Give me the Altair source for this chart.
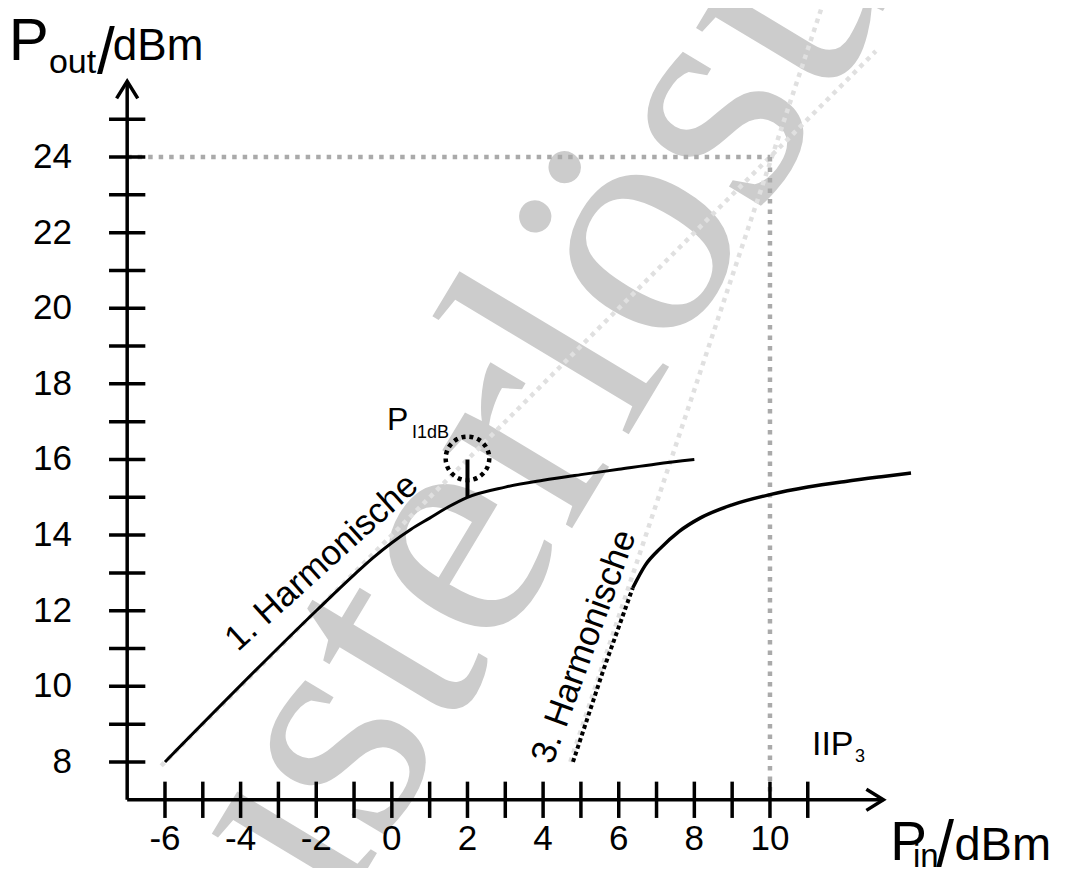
import altair as alt
import pandas as pd

# ---- scale window (data units) ----
X_MIN, X_MAX = -10.152, 17.75
Y_MIN, Y_MAX = 5.196, 27.941

# ---- axis ticks / labels ----
x_ticks = list(range(-6, 12))
y_ticks = list(range(8, 26))
x_labels = [-6, -4, -2, 0, 2, 4, 6, 8, 10]
y_labels = [8, 10, 12, 14, 16, 18, 20, 22, 24]

# ---- curves ----
harm1_x = [-6.0, -2.0, -1.0, -0.5, 0.0, 0.5, 1.0, 1.5, 2.0, 3.0, 4.0, 5.0, 6.0, 7.0, 8.0]
harm1_y = [8.0, 12.0, 12.95, 13.4, 13.8, 14.15, 14.45, 14.75, 15.0, 15.27, 15.45, 15.6, 15.74, 15.88, 16.0]

harm3_dot_x = [4.79, 5.6, 6.37]
harm3_dot_y = [8.0, 10.45, 12.6]
harm3_x = [6.37, 6.7, 7.1, 7.6, 8.15, 9.0, 10.0, 11.0, 12.0, 13.0, 13.73]
harm3_y = [12.6, 13.2, 13.65, 14.1, 14.45, 14.8, 15.07, 15.27, 15.42, 15.55, 15.64]

# extrapolated (small-signal) lines
ext1_x = [-6.1, 12.8]
ext1_y = [7.9, 26.8]
ext3_x = [4.72, 11.35]
ext3_y = [8.0, 27.9]

# IIP3 guides
iip_h_x = [-7.0, 10.0]
iip_h_y = [24.0, 24.0]
iip_v_x = [10.0, 10.0]
iip_v_y = [24.0, 7.0]

# 1 dB compression marker
p1db_x = [2.0]
p1db_y0 = [15.0]
p1db_y1 = [16.0]
circ_x = [2.0]
circ_y = [16.03]

# axes + arrows
xaxis_x = [-7.0, 13.0]
xaxis_y = [7.0, 7.0]
yaxis_x = [-7.0, -7.0]
yaxis_y = [7.0, 26.0]
xarrow_x = [12.55, 13.0, 12.55]
xarrow_y = [7.28, 7.0, 6.72]
yarrow_x = [-7.28, -7.0, -6.72]
yarrow_y = [25.55, 26.0, 25.55]

xs = alt.Scale(domain=[X_MIN, X_MAX], nice=False, zero=False)
ys = alt.Scale(domain=[Y_MIN, Y_MAX], nice=False, zero=False)


def X(f="x"):
    return alt.X(f + ":Q", scale=xs, axis=None)


def Y(f="y"):
    return alt.Y(f + ":Q", scale=ys, axis=None)


def line(xv, yv, **mk):
    df = pd.DataFrame({"x": xv, "y": yv, "o": list(range(len(xv)))})
    return alt.Chart(df).mark_line(**mk).encode(x=X(), y=Y(), order="o:Q")


def texts(rows, align, baseline, font="Liberation Sans", color="black"):
    df = pd.DataFrame(rows, columns=["x", "y", "t", "s", "a"])
    return alt.Chart(df).mark_text(align=align, baseline=baseline, font=font, color=color).encode(
        x=X(), y=Y(), text="t:N",
        size=alt.Size("s:Q", scale=None),
        angle=alt.Angle("a:Q", scale=None),
    )


layers = []

# watermark
wm = pd.DataFrame({"x": [5.8], "y": [15.9], "t": ["Musterlösung"]})
layers.append(alt.Chart(wm).mark_text(fontSize=330, angle=301,
                                      font="Liberation Serif, Times New Roman, DejaVu Serif, serif",
                                      color="#cccccc",
                                      align="center", baseline="alphabetic").encode(x=X(), y=Y(), text="t:N"))

# light extrapolation lines
layers.append(line(ext1_x, ext1_y, color="#e0e0e0", strokeWidth=4.5, strokeDash=[4.5, 5]))
layers.append(line(ext3_x, ext3_y, color="#e0e0e0", strokeWidth=4.5, strokeDash=[4.5, 5]))

# IIP3 guides
layers.append(line(iip_h_x, iip_h_y, color="#aaaaaa", strokeWidth=4.5, strokeDash=[4.5, 6]))
layers.append(line(iip_v_x, iip_v_y, color="#aaaaaa", strokeWidth=4.5, strokeDash=[4.5, 6]))

# axes
layers.append(line(xaxis_x, xaxis_y, color="black", strokeWidth=3.5))
layers.append(line(yaxis_x, yaxis_y, color="black", strokeWidth=3.5))
layers.append(line(xarrow_x, xarrow_y, color="black", strokeWidth=3.5))
layers.append(line(yarrow_x, yarrow_y, color="black", strokeWidth=3.5))

xt = pd.DataFrame({"x": x_ticks, "y": [6.52] * len(x_ticks), "y2": [7.48] * len(x_ticks)})
layers.append(alt.Chart(xt).mark_rule(color="black", strokeWidth=3.5).encode(x=X(), y=Y(), y2="y2:Q"))
yt = pd.DataFrame({"y": y_ticks, "x": [-7.48] * len(y_ticks), "x2": [-6.52] * len(y_ticks)})
layers.append(alt.Chart(yt).mark_rule(color="black", strokeWidth=3.5).encode(y=Y(), x=X(), x2="x2:Q"))

# curves
layers.append(line(harm1_x, harm1_y, color="black", strokeWidth=3, interpolate="monotone"))
layers.append(line(harm3_dot_x, harm3_dot_y, color="black", strokeWidth=4, strokeDash=[4, 3]))
layers.append(line(harm3_x, harm3_y, color="black", strokeWidth=3.5, interpolate="monotone"))

# P1dB marker
pm = pd.DataFrame({"x": p1db_x, "y": p1db_y0, "y2": p1db_y1})
layers.append(alt.Chart(pm).mark_rule(color="black", strokeWidth=4).encode(x=X(), y=Y(), y2="y2:Q"))
cm = pd.DataFrame({"x": circ_x, "y": circ_y})
layers.append(alt.Chart(cm).mark_point(shape="circle", size=1900, filled=False, color="black",
                                       strokeWidth=4.5, strokeDash=[4, 4], opacity=1).encode(x=X(), y=Y()))

# tick labels
layers.append(texts([[v, 5.96, str(v), 35, 0] for v in x_labels], "center", "middle"))
layers.append(texts([[-8.46, v, str(v), 35, 0] for v in y_labels], "right", "middle"))

# left-aligned texts (axis titles and annotations)
left_rows = [
    [-10.13, 26.57, "P", 60, 0],
    [-9.07, 26.23, "out", 34, 0],
    [-7.80, 26.22, "/", 64, 0],
    [-7.38, 26.57, "dBm", 44, 0],
    [13.18, 5.41, "P", 55, 0],
    [13.78, 5.22, "in", 33, 0],
    [14.40, 5.24, "/", 64, 0],
    [14.88, 5.41, "dBm", 47, 0],
    [-0.13, 16.78, "P", 32, 0],
    [0.53, 16.57, "I1dB", 18, 0],
    [11.11, 8.19, "IIP", 34, 0],
    [12.25, 8.0, "3", 18, 0],
]
layers.append(texts(left_rows, "left", "alphabetic"))

# rotated curve labels
layers.append(texts([[-1.86, 13.29, "1. Harmonische", 35, 318],
                     [5.08, 11.05, "3. Harmonische", 35, 290]], "center", "middle"))

chart = alt.layer(*layers).properties(
    width=1055, height=860,
    autosize=alt.AutoSizeParams(type="none"),
    padding=0,
    background="white",
).configure_view(stroke=None)

chart.save("out.html", embed_options={"renderer": "svg", "actions": False})
